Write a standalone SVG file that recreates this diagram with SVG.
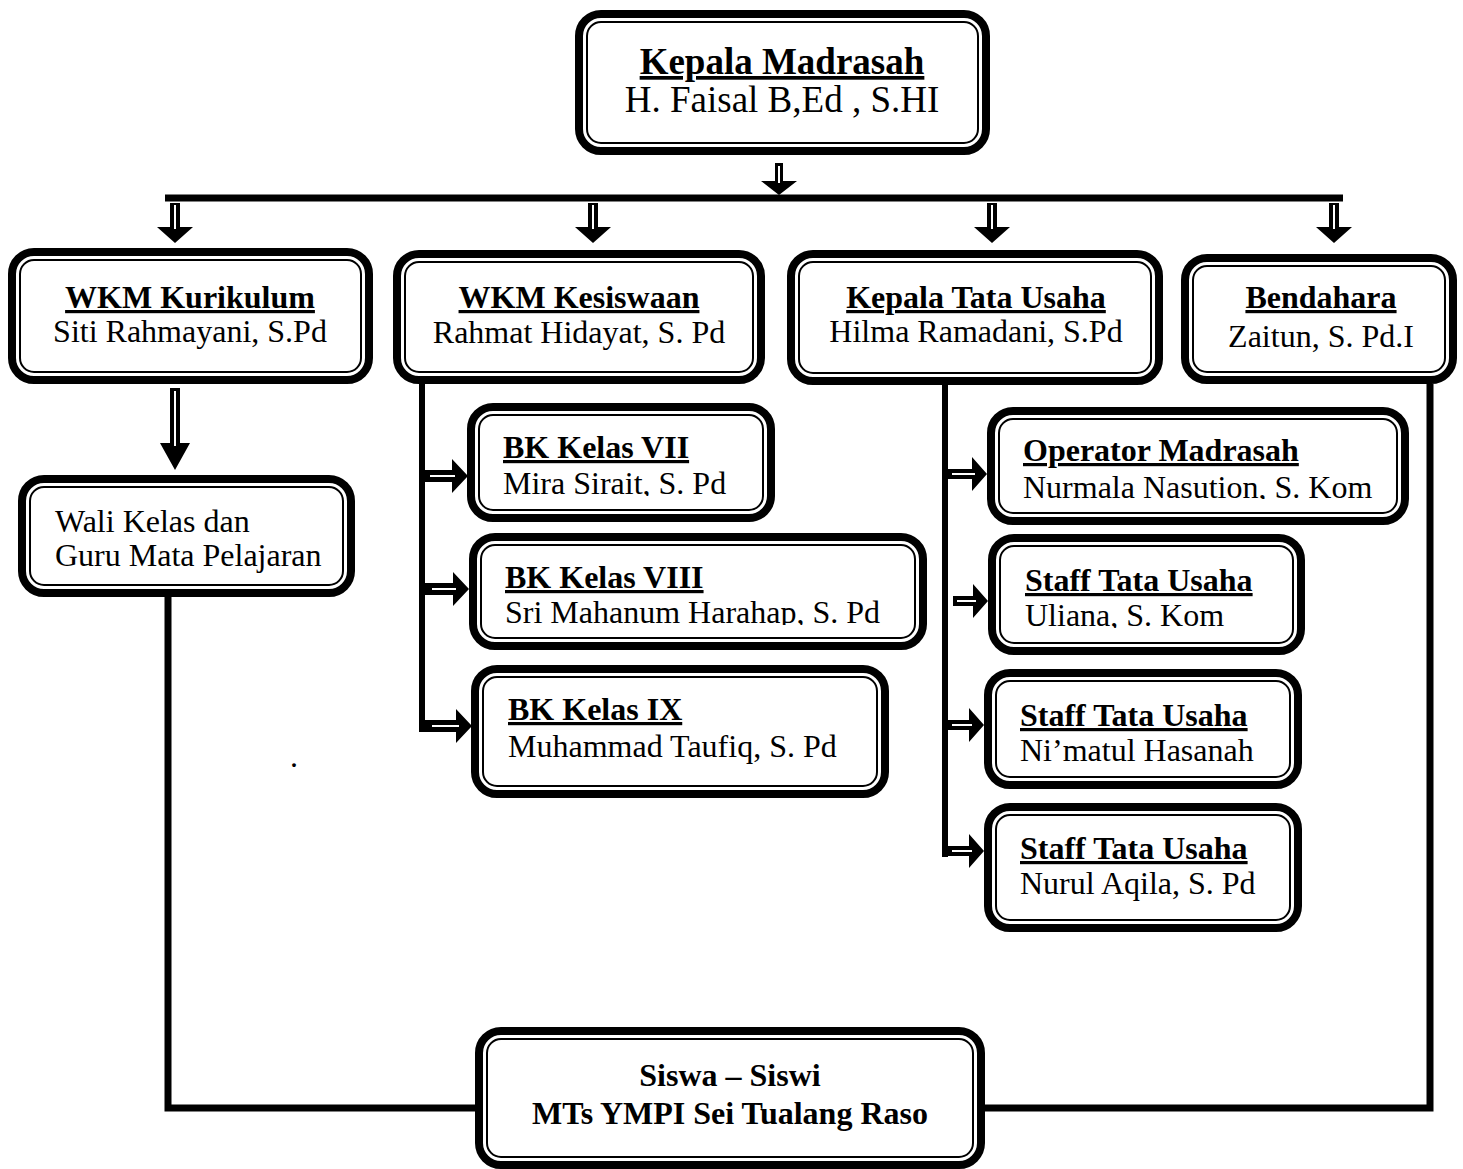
<svg xmlns="http://www.w3.org/2000/svg" width="1463" height="1169" viewBox="0 0 1463 1169">
<style>
.ob{fill:#fff;stroke:#000;stroke-width:8}
.ib{fill:none;stroke:#000;stroke-width:2}
.t{font-family:"Liberation Serif","Times New Roman",serif;font-size:32px;fill:#000}
.h{font-weight:bold;text-decoration:underline}
.c{text-anchor:middle}
.ln{fill:none;stroke:#000;stroke-width:7;stroke-linejoin:miter}
.ar{fill:#000}
.sl{stroke:#fff;stroke-width:2}
</style>
<defs>
<clipPath id="cBk7"><rect x="480" y="410" width="290" height="86"/></clipPath>
<clipPath id="cBk8"><rect x="480" y="540" width="440" height="85"/></clipPath>
<clipPath id="cOp"><rect x="1000" y="415" width="400" height="84"/></clipPath>
<clipPath id="cSt1"><rect x="1000" y="540" width="300" height="88"/></clipPath>
</defs>
<rect width="1463" height="1169" fill="#fff"/>

<g id="connectors">
  <!-- top arrow -->
  <path class="ar" d="M775,163H783V181H797L779,195L761,181H775Z"/>
  <line class="sl" x1="779" y1="166" x2="779" y2="183"/>
  <!-- bus -->
  <line class="ln" x1="165" y1="198" x2="1343" y2="198"/>
  <!-- down arrows to second row -->
  <path class="ar" d="M170,203H180V227H193L175,243L157,227H170Z"/>
  <line class="sl" x1="175" y1="205" x2="175" y2="229"/>
  <path class="ar" d="M588,203H598V227H611L593,243L575,227H588Z"/>
  <line class="sl" x1="593" y1="205" x2="593" y2="229"/>
  <path class="ar" d="M987,203H997V227H1010L992,243L974,227H987Z"/>
  <line class="sl" x1="992" y1="205" x2="992" y2="229"/>
  <path class="ar" d="M1329,203H1339V227H1352L1334,243L1316,227H1329Z"/>
  <line class="sl" x1="1334" y1="205" x2="1334" y2="229"/>
  <!-- kurikulum to wali kelas -->
  <path class="ar" d="M170,388H180V443H190L175,470L160,443H170Z"/>
  <line class="sl" x1="175" y1="391" x2="175" y2="446"/>
  <!-- kesiswaan branch -->
  <line class="ln" style="stroke-width:6" x1="422" y1="384" x2="422" y2="732"/>
  <path class="ar" d="M425,470H452V459L468,476L452,493V482H425Z"/>
  <line class="sl" x1="430" y1="476" x2="455" y2="476"/>
  <path class="ar" d="M425,583H453V572L469,589L453,606V595H425Z"/>
  <line class="sl" x1="432" y1="589" x2="456" y2="589"/>
  <path class="ar" d="M425,720H456V709L472,726L456,743V732H425Z"/>
  <line class="sl" x1="432" y1="726" x2="459" y2="726"/>
  <!-- tata usaha branch -->
  <line class="ln" style="stroke-width:6" x1="945" y1="385" x2="945" y2="857"/>
  <path class="ar" d="M948,469H972V457L987,474L972,491V479H948Z"/>
  <line class="sl" x1="952" y1="474" x2="975" y2="474"/>
  <path class="ar" d="M953,596H973V584L988,601L973,618V606H953Z"/>
  <line class="sl" x1="957" y1="601" x2="976" y2="601"/>
  <path class="ar" d="M948,720H969V708L984,725L969,742V730H948Z"/>
  <line class="sl" x1="952" y1="725" x2="972" y2="725"/>
  <path class="ar" d="M948,846H969V834L984,851L969,868V856H948Z"/>
  <line class="sl" x1="952" y1="851" x2="972" y2="851"/>
  <!-- to siswa -->
  <path class="ln" d="M168,597V1108H478"/>
  <path class="ln" d="M1430,384V1108H985"/>
</g>

<g id="kepala-madrasah">
  <rect class="ob" x="579" y="14" width="407" height="137" rx="22"/>
  <rect class="ib" x="587" y="22" width="391" height="121" rx="14"/>
  <text class="t h c" x="782" y="74" style="font-size:37px">Kepala Madrasah</text>
  <text class="t c" x="782" y="112" style="font-size:37px">H. Faisal B,Ed , S.HI</text>
</g>

<g id="wkm-kurikulum">
  <rect class="ob" x="12" y="252" width="357" height="128" rx="22"/>
  <rect class="ib" x="20" y="260" width="341" height="112" rx="14"/>
  <text class="t h c" x="190" y="308">WKM Kurikulum</text>
  <text class="t c" x="190" y="342">Siti Rahmayani, S.Pd</text>
</g>

<g id="wkm-kesiswaan">
  <rect class="ob" x="397" y="254" width="364" height="126" rx="22"/>
  <rect class="ib" x="405" y="262" width="348" height="110" rx="14"/>
  <text class="t h c" x="579" y="308">WKM Kesiswaan</text>
  <text class="t c" x="579" y="343">Rahmat Hidayat, S. Pd</text>
</g>

<g id="kepala-tata-usaha">
  <rect class="ob" x="791" y="254" width="368" height="127" rx="22"/>
  <rect class="ib" x="799" y="262" width="352" height="111" rx="14"/>
  <text class="t h c" x="976" y="308">Kepala Tata Usaha</text>
  <text class="t c" x="976" y="342">Hilma Ramadani, S.Pd</text>
</g>

<g id="bendahara">
  <rect class="ob" x="1185" y="258" width="268" height="122" rx="22"/>
  <rect class="ib" x="1193" y="266" width="252" height="106" rx="14"/>
  <text class="t h c" x="1321" y="308">Bendahara</text>
  <text class="t c" x="1321" y="347">Zaitun, S. Pd.I</text>
</g>

<g id="wali-kelas">
  <rect class="ob" x="22" y="479" width="329" height="114" rx="22"/>
  <rect class="ib" x="30" y="487" width="313" height="98" rx="14"/>
  <text class="t" x="55" y="532">Wali Kelas dan</text>
  <text class="t" x="55" y="566">Guru Mata Pelajaran</text>
</g>

<g id="bk-kelas-vii">
  <rect class="ob" x="471" y="407" width="300" height="111" rx="22"/>
  <rect class="ib" x="479" y="415" width="284" height="95" rx="14"/>
  <text class="t h" x="503" y="458">BK Kelas VII</text>
  <text class="t" x="503" y="494" clip-path="url(#cBk7)">Mira Sirait, S. Pd</text>
</g>

<g id="bk-kelas-viii">
  <rect class="ob" x="473" y="537" width="450" height="109" rx="22"/>
  <rect class="ib" x="481" y="545" width="434" height="93" rx="14"/>
  <text class="t h" x="505" y="588">BK Kelas VIII</text>
  <text class="t" x="505" y="623" clip-path="url(#cBk8)">Sri Mahanum Harahap, S. Pd</text>
</g>

<g id="bk-kelas-ix">
  <rect class="ob" x="475" y="669" width="410" height="125" rx="22"/>
  <rect class="ib" x="483" y="677" width="394" height="109" rx="14"/>
  <text class="t h" x="508" y="720">BK Kelas IX</text>
  <text class="t" x="508" y="757">Muhammad Taufiq, S. Pd</text>
</g>

<g id="operator-madrasah">
  <rect class="ob" x="991" y="411" width="414" height="110" rx="22"/>
  <rect class="ib" x="999" y="419" width="398" height="94" rx="14"/>
  <text class="t h" x="1023" y="461">Operator Madrasah</text>
  <text class="t" x="1023" y="498" clip-path="url(#cOp)">Nurmala Nasution, S. Kom</text>
</g>

<g id="staff-tu-1">
  <rect class="ob" x="992" y="538" width="309" height="113" rx="22"/>
  <rect class="ib" x="1000" y="546" width="293" height="97" rx="14"/>
  <text class="t h" x="1025" y="591">Staff Tata Usaha</text>
  <text class="t" x="1025" y="626" clip-path="url(#cSt1)">Uliana, S. Kom</text>
</g>

<g id="staff-tu-2">
  <rect class="ob" x="988" y="673" width="310" height="112" rx="22"/>
  <rect class="ib" x="996" y="681" width="294" height="96" rx="14"/>
  <text class="t h" x="1020" y="726">Staff Tata Usaha</text>
  <text class="t" x="1020" y="761">Ni’matul Hasanah</text>
</g>

<g id="staff-tu-3">
  <rect class="ob" x="988" y="807" width="310" height="121" rx="22"/>
  <rect class="ib" x="996" y="815" width="294" height="105" rx="14"/>
  <text class="t h" x="1020" y="859">Staff Tata Usaha</text>
  <text class="t" x="1020" y="894">Nurul Aqila, S. Pd</text>
</g>

<g id="siswa">
  <rect class="ob" x="479" y="1031" width="502" height="134" rx="22"/>
  <rect class="ib" x="487" y="1039" width="486" height="118" rx="14"/>
  <text class="t c" x="730" y="1086" style="font-weight:bold">Siswa – Siswi</text>
  <text class="t c" x="730" y="1124" style="font-weight:bold">MTs YMPI Sei Tualang Raso</text>
</g>

<text class="t" x="290" y="767">.</text>
</svg>
